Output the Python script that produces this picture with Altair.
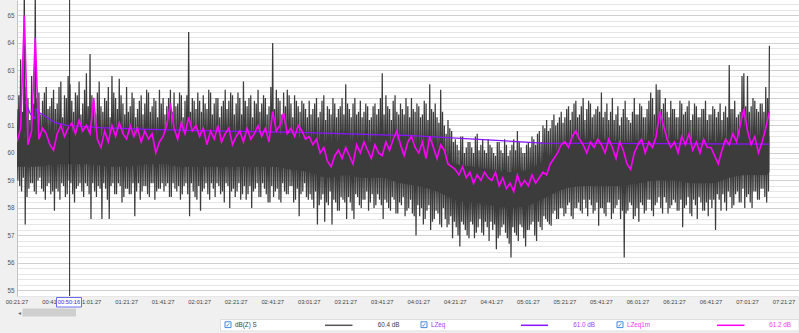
import altair as alt
import pandas as pd

# ---------------- data ----------------
tick_labels = ["00:21:27", "00:41:27", "01:01:27", "01:21:27", "01:41:27", "02:01:27",
               "02:21:27", "02:41:27", "03:01:27", "03:21:27", "03:41:27", "04:01:27",
               "04:21:27", "04:41:27", "05:01:27", "05:21:27", "05:41:27", "06:01:27",
               "06:21:27", "06:41:27", "07:01:27", "07:21:27"]
tick_step_min = 20
y_ticks = [55, 56, 57, 58, 59, 60, 61, 62, 63, 64, 65]

# dB(Z) S, minutes after 00:21:27.  In every 2-minute slot i the trace goes
# peak A (t=2i) -> trough A (t=2i+0.5) -> peak B (t=2i+1) -> trough B (t=2i+1.5)
dbz_peak_a = [
    61.6, 63.4, 66.2, 62.0, 62.8, 66.0, 62.2, 61.9, 62.4, 61.7,
    62.3, 61.8, 62.6, 62.1, 62.8, 61.9, 62.2, 62.6, 61.8, 62.9,
    63.6, 61.9, 62.2, 61.7, 62.0, 62.4, 62.8, 62.0, 62.7, 61.8,
    62.4, 61.7, 62.0, 61.6, 62.1, 61.8, 62.2, 61.7, 61.9, 62.3,
    62.0, 61.7, 62.3, 62.2, 61.8, 62.1, 61.9, 64.4, 62.0, 61.6,
    61.9, 62.1, 61.6, 62.2, 61.8, 62.0, 61.7, 62.3, 61.9, 62.1,
    61.8, 62.0, 62.6, 61.7, 62.1, 61.9, 62.3, 61.8, 62.0, 61.7,
    64.0, 62.3, 61.9, 62.2, 62.3, 61.8, 62.1, 61.7, 61.9, 61.6,
    61.9, 61.6, 62.0, 61.5, 62.1, 61.7, 61.4, 61.8, 61.6, 62.0,
    62.5, 61.6, 61.8, 61.4, 61.9, 61.5, 61.7, 61.3, 61.8, 61.6,
    62.9, 62.1, 61.6, 61.9, 61.5, 61.8, 61.4, 61.7, 62.0, 61.5,
    61.7, 61.4, 61.8, 62.5, 61.5, 61.3, 62.3, 61.0, 61.2, 60.8,
    60.5, 60.1, 60.6, 60.2, 60.4, 60.0, 60.7, 60.3, 60.1, 60.5,
    60.2, 59.9, 60.4, 60.0, 60.3, 60.1, 60.5, 60.8, 60.2, 60.0,
    60.4, 60.6, 60.3, 60.8, 61.0, 61.2, 60.9, 61.4, 61.1, 61.5,
    61.3, 61.7, 61.5, 61.9, 61.4, 62.0, 61.6, 61.8, 61.4, 61.7,
    62.2, 61.5, 61.2, 62.0, 61.4, 61.0, 61.6, 61.3, 61.1, 62.0,
    61.4, 61.7, 61.3, 61.9, 62.0, 62.5, 62.3, 61.8, 61.5, 61.9,
    61.6, 61.3, 61.8, 61.5, 61.9, 61.4, 61.7, 61.3, 61.6, 61.2,
    61.4, 61.6, 61.5, 61.2, 61.7, 63.2, 61.6, 61.3, 61.5, 62.9,
    62.8, 61.7, 61.9, 61.5, 61.8, 62.4, 63.9,
]
dbz_trough_a = [
    59.0, 58.6, 57.4, 58.7, 58.9, 58.5, 59.1, 58.6, 58.8, 58.5,
    57.9, 58.6, 58.9, 58.4, 59.0, 58.5, 58.7, 58.9, 58.4, 58.8,
    57.6, 58.6, 58.8, 57.6, 58.7, 57.6, 58.9, 58.5, 58.8, 58.4,
    58.7, 58.5, 57.7, 58.9, 58.6, 58.8, 58.4, 58.9, 58.6, 58.7,
    58.6, 58.9, 58.4, 58.7, 58.8, 58.5, 58.9, 57.7, 58.6, 58.3,
    57.9, 58.7, 58.5, 58.9, 58.4, 58.8, 58.6, 58.9, 58.0, 58.7,
    58.6, 58.3, 58.8, 58.5, 58.0, 58.7, 58.4, 58.9, 58.5, 58.2,
    58.4, 58.7, 58.2, 58.6, 58.5, 58.8, 58.3, 57.7, 58.6, 58.4,
    58.5, 58.0, 57.4, 58.3, 57.5, 58.1, 57.4, 58.2, 57.9, 58.3,
    57.6, 58.2, 57.6, 58.4, 58.0, 58.3, 57.9, 58.5, 58.1, 58.3,
    57.6, 58.2, 57.9, 58.3, 57.8, 58.1, 57.7, 58.0, 57.8, 57.0,
    57.7, 57.4, 57.9, 57.2, 57.6, 57.8, 57.3, 57.6, 57.4, 56.9,
    57.3, 56.6, 57.4, 57.0, 57.5, 56.9, 57.3, 57.1, 57.5, 56.8,
    57.2, 56.5, 57.0, 57.4, 56.9, 56.2, 57.1, 56.8, 57.3, 56.6,
    57.2, 57.5, 56.8, 57.3, 57.7, 57.5, 57.35, 57.9, 57.6, 58.0,
    57.8, 58.2, 57.6, 58.0, 57.9, 58.3, 57.7, 58.1, 57.9, 57.35,
    58.0, 57.7, 58.2, 57.8, 58.1, 57.6, 56.2, 57.9, 58.1, 57.7,
    57.5, 58.1, 57.9, 58.3, 57.7, 58.2, 58.0, 58.4, 57.8, 58.1,
    58.2, 57.9, 57.3, 58.1, 57.8, 58.3, 57.6, 58.2, 57.9, 57.7,
    58.0, 57.2, 58.3, 58.5, 57.9, 58.4, 58.1, 58.6, 58.2, 58.0,
    58.5, 58.0, 58.6, 58.3, 58.7, 58.2,
]
dbz_peak_b = [
    62.1, 61.5, 62.4, 61.2, 61.8, 62.0, 61.4, 62.2, 61.6, 62.0,
    61.6, 62.4, 61.3, 62.0, 62.5, 61.5, 62.1, 61.4, 62.3, 61.7,
    62.1, 61.4, 62.6, 61.5, 61.9, 61.3, 62.2, 61.6, 62.1, 61.4,
    61.5, 62.2, 61.3, 61.9, 61.4, 62.3, 61.5, 62.0, 61.3, 61.8,
    61.4, 62.0, 61.5, 61.7, 62.2, 61.3, 62.1, 61.5, 61.9, 62.2,
    61.5, 61.8, 62.3, 61.4, 62.0, 61.3, 61.9, 61.6, 62.2, 61.4,
    62.2, 61.4, 61.9, 62.0, 61.3, 61.8, 61.5, 62.1, 61.4, 62.4,
    61.6, 62.0, 61.4, 61.7, 62.1, 61.3, 61.9, 61.5, 61.8, 61.3,
    61.4, 61.8, 61.3, 61.9, 61.2, 61.6, 62.0, 61.3, 61.7, 61.4,
    61.8, 61.3, 62.0, 61.5, 61.3, 61.8, 61.2, 61.7, 61.4, 62.0,
    61.4, 61.7, 61.2, 62.1, 61.4, 61.6, 62.0, 61.3, 61.6, 61.8,
    61.3, 61.9, 61.2, 61.6, 61.8, 61.1, 61.5, 60.7, 60.9, 60.4,
    60.3, 60.6, 60.0, 60.4, 60.2, 60.6, 60.1, 60.5, 60.0, 60.3,
    60.0, 60.4, 60.1, 60.5, 59.9, 60.3, 60.1, 60.4, 60.0, 60.3,
    60.2, 60.5, 60.7, 60.4, 60.9, 60.8, 61.2, 61.0, 61.3, 61.1,
    61.6, 61.2, 61.8, 61.3, 61.7, 61.2, 61.9, 61.3, 61.6, 61.5,
    61.3, 61.8, 61.5, 61.2, 61.7, 61.3, 61.9, 61.2, 61.5, 61.4,
    61.8, 61.3, 61.6, 62.2, 61.4, 62.3, 61.6, 62.0, 61.3, 61.6,
    61.3, 61.9, 61.4, 61.7, 61.2, 61.8, 61.3, 61.6, 61.9, 61.4,
    61.7, 61.3, 61.8, 61.5, 61.3, 61.6, 61.9, 61.4, 62.8, 61.7,
    61.5, 62.0, 61.6, 61.8, 61.5, 62.0,
]
dbz_trough_b = [
    58.8, 59.1, 58.4, 58.9, 58.6, 59.0, 58.7, 58.3, 58.9, 58.6,
    58.7, 58.3, 58.8, 58.5, 58.9, 58.2, 58.8, 58.6, 58.9, 58.5,
    58.9, 58.4, 58.7, 58.9, 58.3, 58.8, 58.5, 58.9, 58.2, 58.7,
    58.5, 58.9, 58.6, 58.3, 58.8, 58.5, 58.9, 58.3, 58.7, 58.9,
    58.8, 58.4, 58.9, 58.6, 58.3, 58.8, 58.5, 58.9, 58.4, 58.8,
    58.6, 58.9, 58.3, 58.7, 58.9, 58.5, 58.2, 58.8, 58.6, 58.4,
    58.9, 58.5, 58.3, 58.8, 58.6, 58.9, 58.4, 58.7, 58.2, 58.8,
    58.6, 58.3, 58.9, 58.5, 58.8, 58.2, 58.7, 58.5, 58.9, 58.3,
    58.3, 58.6, 58.1, 58.5, 58.2, 58.6, 58.3, 57.9, 58.4, 58.2,
    58.4, 57.9, 58.5, 58.1, 58.3, 58.6, 58.2, 58.0, 58.5, 58.1,
    58.3, 58.0, 58.4, 57.8, 58.2, 58.4, 57.9, 58.3, 57.7, 58.1,
    58.0, 57.6, 58.1, 57.5, 57.9, 57.4, 58.0, 57.3, 57.7, 57.5,
    57.0, 57.5, 57.2, 56.9, 57.4, 57.1, 57.6, 57.0, 57.3, 57.5,
    57.4, 56.9, 57.3, 57.1, 56.7, 57.3, 57.0, 57.4, 56.9, 57.2,
    57.4, 57.0, 57.5, 57.2, 57.6, 57.4, 57.8, 57.6, 58.0, 57.7,
    58.1, 57.7, 58.0, 58.2, 57.8, 58.0, 58.3, 57.8, 58.2, 58.0,
    57.8, 58.2, 57.6, 58.0, 58.3, 57.9, 57.8, 58.2, 57.6, 58.0,
    58.2, 57.8, 58.3, 57.9, 58.1, 58.4, 57.8, 58.2, 58.0, 58.3,
    57.9, 58.3, 58.0, 58.4, 57.7, 58.1, 58.4, 57.9, 58.2, 58.3,
    58.3, 58.5, 57.9, 58.2, 58.6, 58.0, 58.5, 58.2, 58.7, 58.4,
    58.2, 58.6, 58.3, 58.7, 58.4, 58.6,
]
# dB(Z) S : middle of the dark core of the trace, every 10 min (last at 412 min)
core_t = [0, 10, 20, 30, 40, 50, 60, 70, 80, 90, 100, 110, 120, 130, 140, 150, 160, 170,
          180, 190, 200, 210, 220, 230, 240, 250, 260, 270, 280, 290, 300, 310, 320, 330,
          340, 350, 360, 370, 380, 390, 400, 410, 412]
core_top = [60.4, 60.7, 60.6, 60.7, 60.7, 60.6, 60.6, 60.6, 60.7, 60.7, 60.7, 60.6, 60.6,
            60.7, 60.7, 60.6, 60.5, 60.4, 60.4, 60.4, 60.4, 60.4, 60.3, 60.1, 59.6, 59.5,
            59.4, 59.3, 59.4, 59.8, 60.3, 60.5, 60.5, 60.4, 60.4, 60.6, 60.5, 60.5, 60.4,
            60.5, 60.6, 60.6, 60.6]
core_bot = [59.5, 59.5, 59.6, 59.6, 59.6, 59.5, 59.5, 59.6, 59.6, 59.5, 59.5, 59.5, 59.5,
            59.5, 59.5, 59.4, 59.3, 59.1, 59.2, 59.1, 59.1, 58.9, 58.8, 58.6, 58.3, 58.2,
            58.1, 58.0, 58.1, 58.4, 58.7, 58.8, 58.8, 58.8, 58.9, 59.0, 59.0, 58.9, 58.9,
            59.1, 59.2, 59.2, 59.3]
# LZeq1m at t = 0, 2, 4 ... min
lzeq1m = [
    60.4, 60.9, 65.0, 60.3, 60.8, 64.2, 60.5, 60.9, 60.7, 60.3,
    60.1, 60.7, 61.0, 60.6, 60.9, 61.1, 60.7, 61.2, 60.8, 61.0,
    60.7, 62.0, 60.5, 60.2, 60.8, 60.4, 61.0, 60.6, 61.1, 60.7,
    60.5, 61.0, 60.6, 60.9, 60.4, 60.8, 60.5, 60.7, 60.0, 60.4,
    60.6, 61.0, 61.8, 60.9, 60.5, 61.1, 60.7, 61.3, 60.8, 61.0,
    60.6, 60.9, 60.3, 60.8, 60.5, 61.0, 60.4, 60.7, 60.9, 60.3,
    60.6, 60.8, 60.4, 60.9, 60.5, 60.7, 61.0, 60.6, 60.9, 60.4,
    61.5, 60.8, 61.0, 61.45, 60.7, 60.9, 60.6, 61.0, 60.8, 60.5,
    60.6, 60.3, 60.5, 60.0, 60.2, 59.7, 59.5, 59.9, 60.1, 59.8,
    60.2, 59.9, 59.6, 60.3, 60.0, 60.4, 60.1, 59.8, 60.3, 60.0,
    59.9, 60.4, 60.1, 60.5, 60.8, 60.3, 59.9, 60.4, 60.6, 60.2,
    60.0, 60.4, 59.8, 60.6, 60.2, 59.8, 60.3, 60.1, 59.6, 59.5,
    59.4, 59.2, 59.5, 59.1, 59.3, 58.9, 59.2, 59.0, 59.3, 59.1,
    59.0, 59.3, 58.8, 59.1, 58.7, 58.9, 58.6, 59.2, 58.8, 59.0,
    58.8, 59.2, 58.9, 59.1, 59.3, 59.2, 59.6, 59.8, 60.0, 60.3,
    60.4, 60.2, 60.6, 60.8, 60.5, 60.3, 60.0, 60.4, 60.2, 60.5,
    60.3, 60.0, 60.5, 60.2, 59.8, 60.4, 60.1, 59.6, 59.4, 60.0,
    60.3, 60.5, 60.0, 60.4, 60.2, 60.6, 61.5, 61.0, 60.5, 60.2,
    60.4, 60.0, 60.6, 60.3, 60.7, 60.1, 60.4, 60.0, 60.5, 60.2,
    60.2, 59.9, 59.6, 60.1, 60.5, 60.3, 60.7, 60.4, 61.0, 61.6,
    60.8, 60.3, 60.6, 60.0, 60.4, 60.9, 61.5,
]
LZEQ1M_STEP = 2
# LZeq (running Leq): minutes after 00:21:27 and level
lzeq_t = [4.4, 7.1, 8.9, 9.9, 10.4, 12.6, 16.3, 20.8, 27.2, 45.5, 72.8, 100.2,
          155.0, 204.0, 213.6, 288.0, 350.0, 412.0]
lzeq_v = [61.87, 61.45, 61.3, 61.25, 61.6, 61.45, 61.3, 61.1, 61.0, 60.92, 60.86,
          60.81, 60.75, 60.65, 60.64, 60.36, 60.34, 60.32]

cursor_label = "00:50:16"
cursor_min = 28 + 49 / 60

legend_names = ["dB(Z) S", "LZeq", "LZeq1m"]
legend_values = ["60.4 dB", "61.0 dB", "61.2 dB"]
series_colors = ["#3c3c3c", "#8a14ff", "#ff00ff"]
legend_text_colors = ["#404040", "#a040ff", "#ff33ff"]

# ---------------- layout ----------------
PAD_L, PAD_B = 17, 37
W, H = 782, 296
X_DOMAIN = [0, 428.2]
Y_DOMAIN = [54.8, 65.56]
FONT = "Liberation Sans"

rows = []
for i in range(len(dbz_peak_a)):
    rows.append({"t": 2 * i, "v": dbz_peak_a[i]})
    if i < len(dbz_trough_a):
        rows.append({"t": 2 * i + 0.5, "v": dbz_trough_a[i]})
    if i < len(dbz_peak_b):
        rows.append({"t": 2 * i + 1, "v": dbz_peak_b[i]})
    if i < len(dbz_trough_b):
        rows.append({"t": 2 * i + 1.5, "v": dbz_trough_b[i]})
gray_df = pd.DataFrame(rows)
core_df = pd.DataFrame({"t": core_t, "lo": core_bot, "hi": core_top})
m_df = pd.DataFrame({"t": [i * LZEQ1M_STEP for i in range(len(lzeq1m))], "v": lzeq1m})
lzeq_df = pd.DataFrame({"t": lzeq_t, "v": lzeq_v})
tick_df = pd.DataFrame({"t": [i * tick_step_min for i in range(len(tick_labels))],
                        "lab": tick_labels})

xscale = alt.Scale(domain=X_DOMAIN, nice=False, zero=False)
yscale = alt.Scale(domain=Y_DOMAIN, nice=False, zero=False)

x_axis = alt.Axis(values=list(tick_df["t"]), labels=False, grid=True, gridColor="#d2d2d2",
                  gridWidth=1, ticks=False, domain=True, domainColor="#c4c4c4", title=None,
                  orient="bottom")
y_axis = alt.Axis(values=y_ticks, grid=True, gridColor="#d0d0d0", ticks=False, domain=True,
                  domainColor="#c4c4c4", labelFont=FONT, labelFontSize=6.3, labelColor="#555555",
                  labelPadding=3, title=None)
minor_vals = [round(54.8 + 0.2 * i, 1) for i in range(54)
              if abs((54.8 + 0.2 * i) - round(54.8 + 0.2 * i)) > 0.05]
y_minor = alt.Axis(values=minor_vals, grid=True, gridColor="#e6e6e6", ticks=False, domain=False,
                   labels=False, title=None, orient="right")

X = alt.X("t:Q", scale=xscale, axis=x_axis)
Xn = alt.X("t:Q", scale=xscale, axis=None)

core = alt.Chart(core_df).mark_area(clip=True, color=series_colors[0], opacity=1,
                                    interpolate="monotone").encode(
    x=X, y=alt.Y("lo:Q", scale=yscale, axis=y_axis), y2="hi:Q")
gray = alt.Chart(gray_df).mark_line(clip=True, color=series_colors[0], strokeWidth=1.25).encode(
    x=Xn, y=alt.Y("v:Q", scale=yscale, axis=None), order="t:Q")
lzeq = alt.Chart(lzeq_df).mark_line(clip=True, color=series_colors[1], strokeWidth=1.3).encode(
    x=Xn, y=alt.Y("v:Q", scale=yscale, axis=y_minor))
mag = alt.Chart(m_df).mark_line(clip=True, color=series_colors[2], strokeWidth=1.6).encode(
    x=Xn, y=alt.Y("v:Q", scale=yscale, axis=None))
cursor = alt.Chart(pd.DataFrame({"t": [cursor_min]})).mark_rule(color="#2a2a2a", strokeWidth=1).encode(
    x=Xn)
tick_text = alt.Chart(tick_df).mark_text(font=FONT, fontSize=5.8, color="#444444",
                                         baseline="middle", align="center").encode(
    x=Xn, y=alt.value(H + 5.5), text="lab:N")

one = pd.DataFrame({"a": [0]})


def rect(x1, x2, y1, y2, fill, stroke=None):
    kw = {"fill": fill}
    if stroke:
        kw["stroke"] = stroke
        kw["strokeWidth"] = 1
    return alt.Chart(one).mark_rect(**kw).encode(
        x=alt.value(x1 - PAD_L), x2=alt.value(x2 - PAD_L), y=alt.value(y1), y2=alt.value(y2))


def text(x, y, s, color, align="left", size=6.3, font=FONT, weight="normal"):
    return alt.Chart(one).mark_text(align=align, baseline="middle", fontSize=size, font=font,
                                    color=color, fontWeight=weight).encode(
        x=alt.value(x - PAD_L), y=alt.value(y), text=alt.value(s))


def hline(x1, x2, y, color, width=1.5):
    return alt.Chart(one).mark_rule(color=color, strokeWidth=width).encode(
        x=alt.value(x1 - PAD_L), x2=alt.value(x2 - PAD_L), y=alt.value(y))


deco = []
# cursor label on the time axis
deco.append(rect(56.5, 81.5, 297.5, 307, "#ffffff", "#6b6bf2"))
deco.append(text(69, 302.3, cursor_label, "#2f2fd0", align="center", size=5.8))
# scrollbar
deco.append(rect(22.5, 76, 308.5, 316.5, "#cfcfcf"))
deco.append(text(19.5, 312.5, "◂", "#707070", align="center", size=6, font="DejaVu Sans"))
# legend strip
deco.append(rect(220.5, 799, 319.5, 331, "#ffffff", "#dedede"))
item_x = [225, 421, 617]
line_x = [(325, 352.5), (521, 548), (717, 744.5)]
val_right = [399.5, 595, 791]
for k in range(3):
    cx = item_x[k]
    deco.append(rect(cx, cx + 6, 321.8, 327.6, "#ffffff", "#3f8ae0"))
    deco.append(text(cx + 3, 324.6, "✓", "#2f6fd0", align="center", size=6, font="DejaVu Sans"))
    deco.append(text(cx + 10, 325, legend_names[k], legend_text_colors[k]))
    deco.append(hline(line_x[k][0], line_x[k][1], 325.3, series_colors[k] if k else "#555555"))
    deco.append(text(val_right[k], 325, legend_values[k], legend_text_colors[k], align="right"))

chart = alt.layer(core, gray, lzeq, mag, cursor, tick_text, *deco).resolve_axis(
    y="independent").properties(
    width=W, height=H,
    autosize=alt.AutoSizeParams(type="none"),
    padding={"left": PAD_L, "top": 0, "right": 0, "bottom": PAD_B},
    background="#f0f0f0",
).configure_view(fill="#ffffff", stroke=None)

chart.save("out.html", embed_options={"renderer": "svg", "actions": False})
